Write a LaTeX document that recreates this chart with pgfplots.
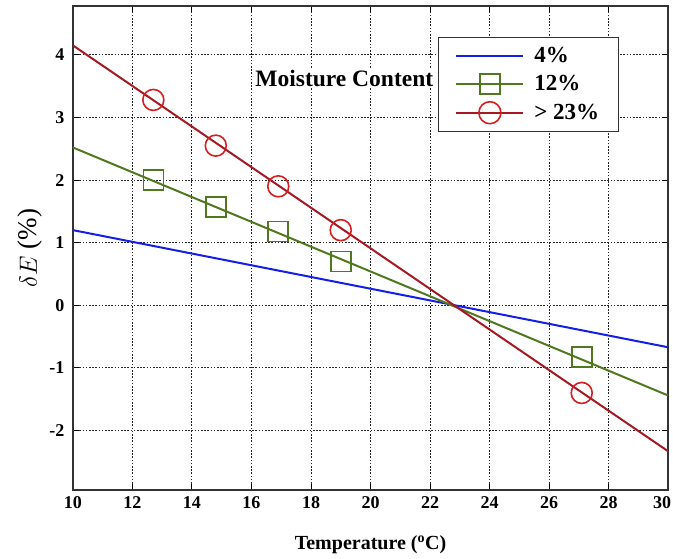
\documentclass[border=0pt]{standalone}
\usepackage{pgfplots}
\pgfplotsset{compat=1.18}
\usepackage{fontspec}
\setmainfont{Liberation Serif}

\definecolor{lineblue}{RGB}{20,30,230}
\definecolor{linegreen}{RGB}{80,120,30}
\definecolor{linered}{RGB}{165,25,35}
\definecolor{markred}{RGB}{215,30,30}

\begin{document}
\begin{tikzpicture}
\useasboundingbox (0,0) rectangle (673pt,559pt);
\begin{axis}[
  at={(73pt,69pt)}, anchor=south west,
  scale only axis, width=595pt, height=484pt,
  xmin=10, xmax=30, ymin=-2.95, ymax=4.78,
  xtick={10,12,...,30}, ytick={-2,-1,0,1,2,3,4},
  xticklabels={10,12,14,16,18,20,22,24,26,28,\hspace*{-12pt}30},
  grid=major,
  major grid style={black!85, dash pattern=on 1.6pt off 1.6pt, line width=1pt},
  axis line style={black!80, line width=1.3pt},
  tick style={black, line width=1pt},
  major tick length=6pt,
  tick align=inside,
  /pgf/number format/assume math mode=true,
  ticklabel style={font=\fontsize{18}{20}\selectfont\bfseries},
  xticklabel style={yshift=-3pt},
  yticklabel style={xshift=-5pt},
  xlabel={\bfseries Temperature ($^{\mathbf{o}}$C)},
  xlabel style={font=\fontsize{20}{22}\selectfont, yshift=-20pt},
  ylabel={$\delta E$ (\%)},
  ylabel style={font=\fontsize{27}{30}\selectfont, yshift=0pt},
  legend style={at={(0.613,0.936)}, anchor=north west,
    draw=black!80, line width=1.3pt, font=\fontsize{23}{24}\selectfont\bfseries,
    inner xsep=17pt, inner ysep=7.5pt, row sep=7.5pt, column sep=8pt,
    nodes={inner sep=2pt}},
  legend cell align=left,
  legend image code/.code={
    \draw[#1] (0pt,0pt) -- (67pt,0pt);
    \draw[#1, only marks] plot coordinates {(33.5pt,0pt)};
  },
]
% fitted trend lines
\addplot[lineblue, line width=2pt, forget plot] coordinates {(10,1.20) (30,-0.67)};
\addplot[linegreen, line width=2pt, forget plot] coordinates {(10,2.52) (30,-1.44)};
\addplot[linered, line width=2pt, forget plot] coordinates {(10,4.15) (30,-2.33)};
% measured points
\addplot[only marks, mark=square, mark size=10pt, draw=linegreen, line width=1.6pt, forget plot]
  coordinates {(12.7,2.00) (14.8,1.57) (16.9,1.18) (19.0,0.70) (27.1,-0.83)};
\addplot[only marks, mark=o, mark size=10.5pt, draw=markred, line width=1.6pt, forget plot]
  coordinates {(12.7,3.28) (14.8,2.55) (16.9,1.90) (19.0,1.20) (27.1,-1.40)};
% legend
\addlegendimage{lineblue, line width=2pt, no markers}
\addlegendentry{4\%}
\addlegendimage{linegreen, line width=2pt, mark=square, mark size=10pt, mark options={line width=1.6pt}}
\addlegendentry{12\%}
\addlegendimage{linered, line width=2pt, mark=o, mark size=11pt, mark options={draw=markred, line width=1.6pt}}
\addlegendentry{> 23\%}
\node[font=\fontsize{23.5}{25}\selectfont\bfseries, fill=white, inner sep=2pt] at (axis cs:19.12,3.63) {Moisture Content};
\end{axis}
\end{tikzpicture}
\end{document}
